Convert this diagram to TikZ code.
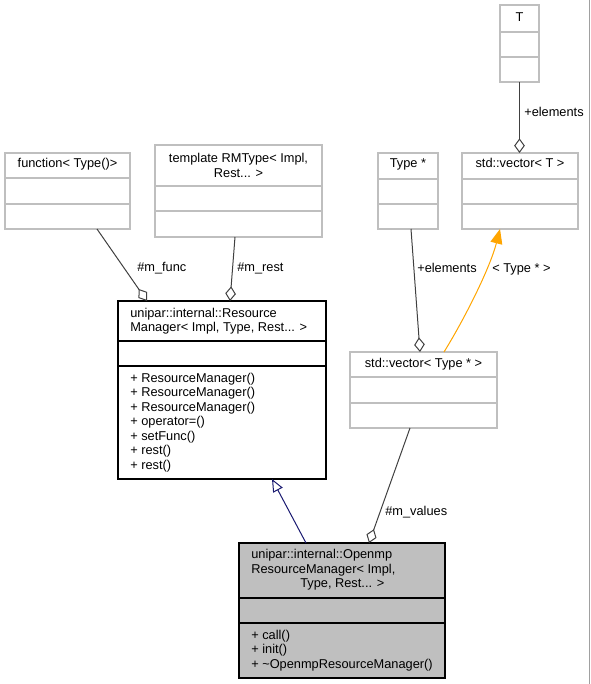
\documentclass[tikz,border=0pt]{standalone}
\usepackage{fontspec}
\setmainfont{Liberation Sans}
\usetikzlibrary{arrows.meta,calc}
\definecolor{gsev}{RGB}{191,191,191}
\definecolor{gtwf}{RGB}{64,64,64}
\definecolor{mnblue}{RGB}{25,25,112}
\definecolor{dxorange}{RGB}{255,165,0}
\definecolor{framegray}{RGB}{160,160,160}
\newcommand\clsbox[6]{\node[#6, minimum width=#4*0.75pt, minimum height=#5*0.75pt] (#1) at (#2,#3) {};}
\newcommand\sepline[3]{\draw[#3] ($(#1.north west)+(0,#2)$) -- ($(#1.north east)+(0,#2)$);}
\begin{document}
\begin{tikzpicture}[x=0.75pt,y=-0.75pt,
  font=\fontsize{9.6}{10.8}\selectfont,
  cls/.style={draw=gsev, line width=0.8pt, fill=white, inner sep=0pt, outer sep=0pt, anchor=north west},
  clsmain/.style={draw=black, line width=0.9pt, fill=white, inner sep=0pt, outer sep=0pt, anchor=north west},
  clscur/.style={draw=black, line width=0.9pt, fill=gsev, inner sep=0pt, outer sep=0pt, anchor=north west},
  lsep/.style={draw=gsev, line width=0.8pt},
  dsep/.style={draw=black, line width=0.9pt},
  txt/.style={inner sep=0pt, anchor=base west},
  ctxt/.style={inner sep=0pt, anchor=base},
  lbl/.style={inner sep=0pt, anchor=base west},
  usage/.style={draw=gtwf, line width=0.75pt, -{Diamond[open, length=11pt, width=8pt]}},
  inherit/.style={draw=mnblue, line width=0.75pt, -{Triangle[open, length=9.5pt, width=8pt]}},
  tmpl/.style={draw=dxorange, line width=0.75pt, -{Triangle[length=11pt, width=9pt, fill=dxorange]}}
]
\useasboundingbox (0,0) rectangle (591,684);
\draw[framegray, line width=0.75pt] (589.5,0) -- (589.5,684);

% class boxes
\clsbox{func}{5}{153}{125}{76}{cls}
\sepline{func}{25}{lsep}
\sepline{func}{51}{lsep}
\node[ctxt] (funct) at (67.5,168) {function< Type()>};

\clsbox{rmt}{155}{145}{167}{92}{cls}
\sepline{rmt}{41}{lsep}
\sepline{rmt}{66}{lsep}
\node[ctxt] (rmta) at (238.5,163) {template RMType< Impl,};
\node[ctxt] (rmtb) at (238.5,177.5) {Rest... >};

\clsbox{T}{500}{5}{39}{77}{cls}
\sepline{T}{27}{lsep}
\sepline{T}{52}{lsep}
\node[ctxt] (Tt) at (519.5,21.5) {T};

\clsbox{typ}{378}{153}{60}{76}{cls}
\sepline{typ}{26}{lsep}
\sepline{typ}{51}{lsep}
\node[ctxt] (typt) at (408,168) {Type *};

\clsbox{vecT}{462}{153}{116}{76}{cls}
\sepline{vecT}{26}{lsep}
\sepline{vecT}{51}{lsep}
\node[ctxt] (vecTt) at (520,168) {std::vector< T >};

\clsbox{vecTy}{350}{352}{147}{76}{cls}
\sepline{vecTy}{25}{lsep}
\sepline{vecTy}{51}{lsep}
\node[ctxt] (vecTyt) at (423.5,367.5) {std::vector< Type * >};

\clsbox{rm}{118}{301}{208}{178}{clsmain}
\sepline{rm}{40}{dsep}
\sepline{rm}{65}{dsep}
\node[txt] (rma) at (130,317) {unipar::internal::Resource};
\node[txt] (rmb) at (130,331.5) {Manager< Impl, Type, Rest... >};
\node[txt] (rm1) at (130,382) {+ ResourceManager()};
\node[txt] (rm2) at (130,396.5) {+ ResourceManager()};
\node[txt] (rm3) at (130,411) {+ ResourceManager()};
\node[txt] (rm4) at (130,425.5) {+ operator=()};
\node[txt] (rm5) at (130,440) {+ setFunc()};
\node[txt] (rm6) at (130,454.5) {+ rest()};
\node[txt] (rm7) at (130,469) {+ rest()};

\clsbox{omp}{239}{543}{206}{135}{clscur}
\sepline{omp}{55}{dsep}
\sepline{omp}{80}{dsep}
\node[txt] (ompa) at (251,558.5) {unipar::internal::Openmp};
\node[txt] (ompb) at (251,573) {ResourceManager< Impl,};
\node[txt] (ompc) at (300,587.5) {Type, Rest... >};
\node[txt] (omp1) at (251,639) {+ call()};
\node[txt] (omp2) at (251,653.5) {+ init()};
\node[txt] (omp3) at (251,668) {+ \char"007EOpenmpResourceManager()};

% connectors
\draw[usage] ($(func.south west)+(92,0)$) -- ($(rm.north west)+(29,0)$);
\node[lbl] (lfunc) at (137,271) {\#m\_func};

\draw[usage] ($(rmt.south west)+(80,0)$) -- ($(rm.north west)+(112,0)$);
\node[lbl] (lrest) at (237,271) {\#m\_rest};

\draw[usage] (T.south) -- ($(vecT.north west)+(57.5,0)$);
\node[lbl] (lel1) at (524,117) {+elements};

\draw[usage] ($(typ.south west)+(33,0)$) -- ($(vecTy.north west)+(70,0)$);
\node[lbl] (lel2) at (417,272) {+elements};

\coordinate (oc1) at ($(vecTy.north west)+(115,-34)$);
\coordinate (oc2) at ($(vecT.south west)+(28,39)$);
\draw[tmpl] ($(vecTy.north west)+(94,0)$) .. controls (oc1) and (oc2) .. ($(vecT.south west)+(38,0)$);
\node[lbl] (ltype) at (492,272) {< Type * >};

\draw[inherit] ($(omp.north west)+(67,0)$) -- ($(rm.south west)+(154,0)$);

\draw[usage] ($(vecTy.south west)+(60,0)$) -- ($(omp.north west)+(130,0)$);
\node[lbl] (lval) at (385,515) {\#m\_values};
\end{tikzpicture}
\end{document}
